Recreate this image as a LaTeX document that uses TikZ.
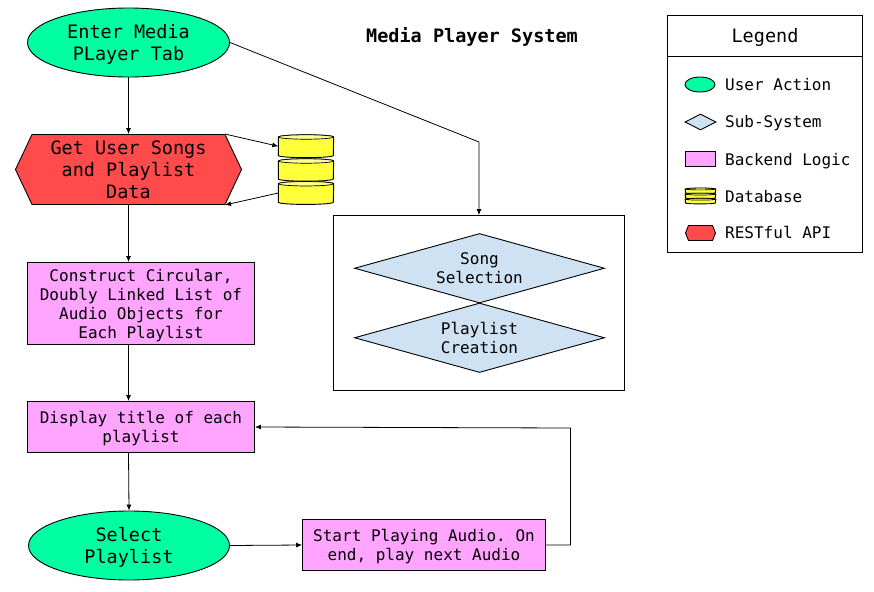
\documentclass[tikz,border=0pt]{standalone}
\usepackage{fontspec}
\setmainfont{DejaVu Sans Mono}
\usetikzlibrary{shapes.geometric,arrows.meta,calc}
\AtBeginDocument{\frenchspacing}
\definecolor{cgreen}{HTML}{00FFA2}
\definecolor{cred}{HTML}{FF4B4B}
\definecolor{cblue}{HTML}{CFE2F3}
\definecolor{cpink}{HTML}{FFA4FF}
\definecolor{cyel}{HTML}{FFFF3A}
\newcommand{\cylpaint}[3]{%
  \path[dbbody] ($(#1.north west)+(0,#2)$) -- ($(#1.south west)+(0,-#2)$)
    arc[start angle=180,end angle=360,x radius=#3pt,y radius=#2pt]
    -- ($(#1.north east)+(0,#2)$) arc[start angle=0,end angle=180,x radius=#3pt,y radius=#2pt] -- cycle;
  \path[dbtop] ($(#1.north)+(0,#2)$) ellipse[x radius=#3pt,y radius=#2pt];
}
\tikzset{
  base/.style={draw=black,line width=0.9pt,inner sep=0pt,align=center,text depth=0pt,font=\fontsize{16}{19}\selectfont},
  bigtext/.style={font=\fontsize{18.5}{22}\selectfont},
  action/.style={base,bigtext,ellipse,fill=cgreen},
  subsys/.style={base,diamond,aspect=3.6,fill=cblue},
  backend/.style={base,rectangle,fill=cpink},
  apitext/.style={base,bigtext,rectangle,draw=none},
  apishape/.style={draw=black,line width=0.9pt,fill=cred},
  dbnode/.style={rectangle,draw=none,inner sep=0pt},
  dbbody/.style={draw=black,line width=0.9pt,fill=cyel},
  dbtop/.style={draw=black,line width=0.7pt,fill=cyel!55!white},
  frame/.style={draw=black,line width=0.9pt,fill=white,inner sep=0pt},
  legtext/.style={anchor=base west,inner sep=0pt,font=\fontsize{16}{19}\selectfont},
  conn/.style={draw=black,line width=0.8pt,-{Latex[length=6pt,width=5pt]}},
}
\begin{document}
\begin{tikzpicture}[x=1pt,y=-1pt]
\useasboundingbox[fill=white] (0,0) rectangle (874,591);
% nodes
\node[action,minimum width=202pt,minimum height=69pt] (enter) at (128.5,42.5) {Enter Media\\PLayer Tab};
\path[apishape] (15.5,169.5) -- (32,134.5) -- (225,134.5) -- (241.5,169.5) -- (225,204.5) -- (32,204.5) -- cycle;
\node[apitext,minimum width=226pt,minimum height=70pt] (get) at (128.5,169.5) {Get User Songs\\and Playlist\\Data};
\node[dbnode,minimum width=55pt,minimum height=22.5pt] (db1) at (306,146.25) {};
\node[dbnode,minimum width=55pt,minimum height=22pt] (db2) at (306,170) {};
\node[dbnode,minimum width=55pt,minimum height=22.5pt] (db3) at (306,193) {};
\cylpaint{db1}{2.2}{27.5}
\cylpaint{db2}{2.2}{27.5}
\cylpaint{db3}{2.2}{27.5}
\node[backend,minimum width=227pt,minimum height=82pt] (build) at (141,303.5) {Construct Circular,\\Doubly Linked List of\\Audio Objects for\\Each Playlist};
\node[backend,minimum width=227pt,minimum height=51pt] (title) at (141,427) {Display title of each\\playlist};
\node[action,minimum width=201pt,minimum height=69pt] (select) at (129,545.5) {Select\\Playlist};
\node[backend,minimum width=243pt,minimum height=51pt] (play) at (424,545) {Start Playing Audio. On\\end, play next Audio};
\node[frame,minimum width=291pt,minimum height=175pt] (box) at (479,303) {};
\node[subsys,minimum width=250pt,minimum height=69.5pt] (song) at (479.5,268.25) {Song\\Selection};
\node[subsys,minimum width=250pt,minimum height=69.5pt] (plist) at (479.5,337.75) {Playlist\\Creation};
\node[font=\bfseries\fontsize{18.5}{22}\selectfont,inner sep=0pt,text depth=0pt] (head) at (472,35) {Media Player System};
% legend
\node[frame,minimum width=195pt,minimum height=40.5pt,text depth=0pt,font=\fontsize{18.5}{22}\selectfont] (leghead) at (765,35.75) {Legend};
\node[frame,minimum width=195pt,minimum height=196pt] (legbody) at (765,154) {};
\node[action,minimum width=30pt,minimum height=15pt] (l1) at (700,84.5) {};
\node[subsys,minimum width=31pt,minimum height=16pt,aspect=1.9] (l2) at (700.5,122) {};
\node[backend,minimum width=30pt,minimum height=15pt] (l3) at (700.5,158.5) {};
\node[dbnode,minimum width=30pt,minimum height=5.2pt] (l4a) at (700.5,190.9) {};
\node[dbnode,minimum width=30pt,minimum height=5.2pt] (l4b) at (700.5,196) {};
\node[dbnode,minimum width=30pt,minimum height=5.2pt] (l4c) at (700.5,201.1) {};
\cylpaint{l4a}{0.9}{15}
\cylpaint{l4b}{0.9}{15}
\cylpaint{l4c}{0.9}{15}
\path[apishape] (685.5,233) -- (688.5,225.5) -- (712.5,225.5) -- (715.5,233) -- (712.5,240.5) -- (688.5,240.5) -- cycle;
\node[legtext] (t1) at (725,90.5) {User Action};
\node[legtext] (t2) at (725,127) {Sub-System};
\node[legtext] (t3) at (725,165) {Backend Logic};
\node[legtext] (t4) at (725,202) {Database};
\node[legtext] (t5) at (725,238) {RESTful API};
% connectors
\draw[conn] (enter.south) -- (get.north);
\draw[conn] (enter.east) -- (479,142) -- (box.north);
\draw[conn] ($(get.north)+(96.5,0)$) -- (db1.west);
\draw[conn] (db3.west) -- ($(get.south)+(96.5,0)$);
\draw[conn] (get.south) -- (get.south |- build.north);
\draw[conn] (get.south |- build.south) -- (get.south |- title.north);
\draw[conn] (get.south |- title.south) -- (select.north);
\draw[conn] (select.east) -- (play.west);
\draw[conn] (play.east) -- (570.5,545) -- (570.5,428) -- (title.east);
\end{tikzpicture}
\end{document}
